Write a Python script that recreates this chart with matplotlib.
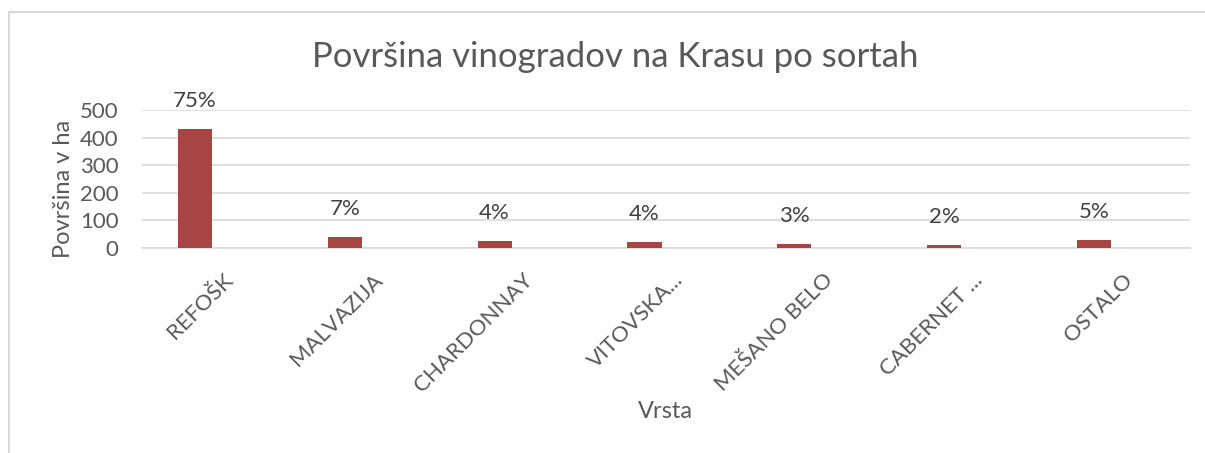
import matplotlib
matplotlib.use("Agg")
import matplotlib.pyplot as plt
import matplotlib.lines as mlines
import matplotlib.transforms as mtrans

categories = ["REFOŠK", "MALVAZIJA", "CHARDONNAY", "VITOVSKA...", "MEŠANO BELO", "CABERNET ...", "OSTALO"]
values = [430, 40, 24, 21, 16, 10, 30]
pct_labels = ["75%", "7%", "4%", "4%", "3%", "2%", "5%"]
yticks = [0, 100, 200, 300, 400, 500]

plt.rcParams['font.family'] = ['Lato', 'DejaVu Sans']
grey_text = '#595959'
grid_c = '#d9d9d9'
bar_c = '#A64541'

W, H = 1205, 453
fig = plt.figure(figsize=(W / 100, H / 100), dpi=100)

# chart border (left and top edges visible)
bx, by = 8.5 / W, 1 - 11.5 / H
fig.add_artist(mlines.Line2D([bx, 1.0], [by, by], transform=fig.transFigure, color=grid_c, lw=1.5))
fig.add_artist(mlines.Line2D([bx, bx], [0, by], transform=fig.transFigure, color=grid_c, lw=1.5))

left, right = 142 / W, 1190 / W
bottom, top = 1 - 248 / H, 1 - 110 / H
ax = fig.add_axes([left, bottom, right - left, top - bottom])

x = list(range(len(categories)))
ax.bar(x, values, width=0.227, color=bar_c, zorder=3)
ax.set_xlim(-0.353, 6.64)
ax.set_ylim(0, 500)
ax.set_yticks(yticks)
ax.set_yticklabels([str(v) for v in yticks], fontsize=16, color=grey_text)
ax.yaxis.grid(True, color=grid_c, lw=1.2, zorder=0)
ax.tick_params(axis='y', length=0, pad=17)
ax.tick_params(axis='x', length=0)
for s in ['top', 'right', 'left']:
    ax.spines[s].set_visible(False)
ax.spines['bottom'].set_color(grid_c)
ax.spines['bottom'].set_linewidth(1.2)

ax.set_xticks(x)
ax.set_xticklabels(categories, rotation=45, ha='right', va='top',
                   rotation_mode='anchor', fontsize=16, color=grey_text)
offset = mtrans.ScaledTranslation(28 / 100, -17 / 100, fig.dpi_scale_trans)
for lbl in ax.get_xticklabels():
    lbl.set_transform(lbl.get_transform() + offset)

for xi, v, p in zip(x, values, pct_labels):
    ax.annotate(p, (xi, v), xytext=(0, 13), textcoords='offset points',
                ha='center', va='bottom', fontsize=16, color='#404040')

fig.text(63 / W, 1 - 189 / H, "Površina v ha", ha='center', va='center', rotation=90,
         fontsize=17, color=grey_text)
fig.text(665 / W, 1 - 412 / H, "Vrsta", ha='center', va='center', fontsize=17, color=grey_text)
fig.text(615 / W, 1 - 57 / H, "Površina vinogradov na Krasu po sortah", ha='center', va='center',
         fontsize=25, color=grey_text)

fig.savefig("out.png", dpi=100)
